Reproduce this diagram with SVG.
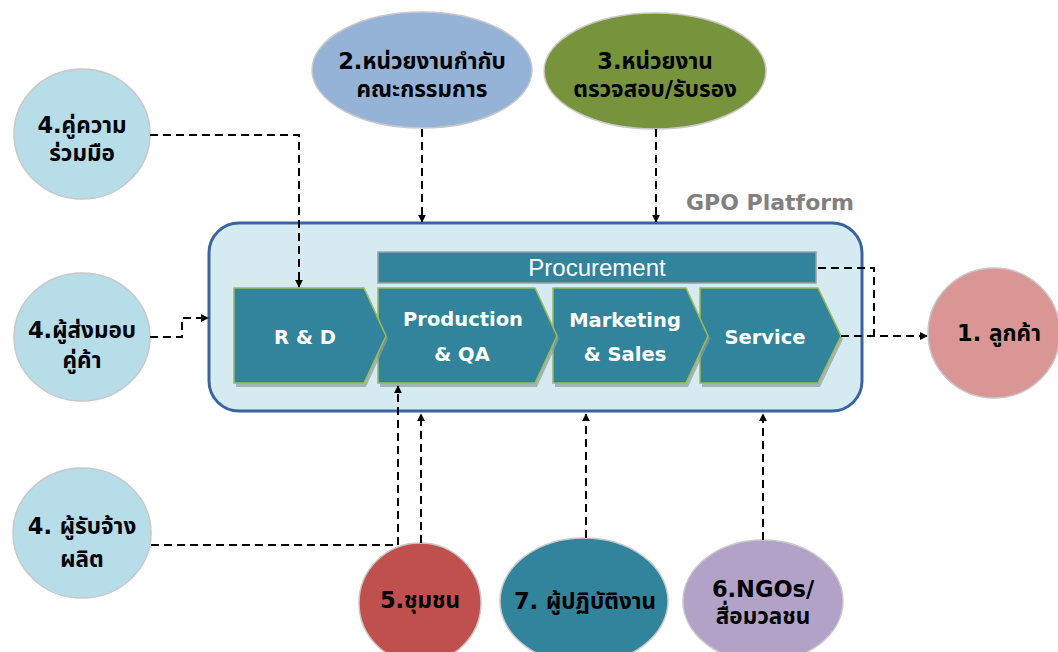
<svg xmlns="http://www.w3.org/2000/svg" width="1058" height="652" viewBox="0 0 1058 652">
<defs>
<marker id="ah" viewBox="0 0 10 10" refX="9" refY="5" markerWidth="8" markerHeight="8" markerUnits="userSpaceOnUse" orient="auto">
<path d="M0,0 L10,5 L0,10 Z" fill="#000"/>
</marker>
<style>
.lbl{font-family:"DejaVu Sans","Noto Sans Thai","Noto Sans",sans-serif;font-weight:bold;font-size:22.5px;fill:#000;text-anchor:middle;dominant-baseline:central}
.wt{font-family:"DejaVu Sans","Noto Sans",sans-serif;font-weight:bold;font-size:19.5px;fill:#fff;text-anchor:middle;dominant-baseline:central}
.node{stroke:#c8c8c8;stroke-width:1.5}
.chev{fill:#31849b;stroke:#9bbb59;stroke-width:1.5}
.shadow{fill:#8c9ca0;opacity:0.7}
.conn{fill:none;stroke:#000;stroke-width:2;stroke-dasharray:8 5}
</style>
</defs>
<rect width="1058" height="652" fill="#fff"/>

<g id="platform">
<rect x="209" y="223" width="653" height="188" rx="30" ry="30" fill="#d6eaf2" stroke="#3a64a0" stroke-width="3"/>
<text x="770" y="202" font-family="'DejaVu Sans',sans-serif" font-weight="bold" font-size="22" fill="#808080" text-anchor="middle" dominant-baseline="central">GPO Platform</text>
</g>

<g id="procurement">
<rect x="378" y="252" width="438" height="31" fill="#31849b" stroke="#a0a0a0" stroke-width="1.5"/>
<text x="597" y="267" font-family="'Liberation Sans',Arial,sans-serif" font-size="24" fill="#fff" text-anchor="middle" dominant-baseline="central">Procurement</text>
</g>

<g id="service">
<path class="shadow" d="M702,291 L820,291 L843,339 L820,387 L702,387 Z"/>
<path class="chev" d="M700,288 L818,288 L841,336 L818,383 L700,383 Z"/>
<text class="wt" x="765" y="337">Service</text>
</g>
<g id="marketing">
<path class="shadow" d="M555,291 L688,291 L710,339 L688,387 L555,387 Z"/>
<path class="chev" d="M553,288 L686,288 L708,336 L686,383 L553,383 Z"/>
<text class="wt" x="625" y="320">Marketing</text>
<text class="wt" x="625" y="354">&amp; Sales</text>
</g>
<g id="production">
<path class="shadow" d="M380,291 L537,291 L559,339 L537,387 L380,387 Z"/>
<path class="chev" d="M378,288 L535,288 L557,336 L535,383 L378,383 Z"/>
<text class="wt" x="463" y="319">Production</text>
<text class="wt" x="462" y="354">&amp; QA</text>
</g>
<g id="rd">
<path class="shadow" d="M236,291 L366,291 L388,339 L366,387 L236,387 Z"/>
<path class="chev" d="M234,288 L364,288 L386,336 L364,383 L234,383 Z"/>
<text class="wt" x="305" y="337">R &amp; D</text>
</g>

<g id="n2">
<ellipse class="node" cx="422" cy="70" rx="110" ry="58" fill="#95b3d7"/>
<text class="lbl" x="422" y="61">2.หน่วยงานกำกับ</text>
<text class="lbl" x="422" y="89">คณะกรรมการ</text>
</g>
<g id="n3">
<ellipse class="node" cx="655" cy="71" rx="111" ry="58" fill="#77933c"/>
<text class="lbl" x="655" y="61">3.หน่วยงาน</text>
<text class="lbl" x="655" y="89">ตรวจสอบ/รับรอง</text>
</g>
<g id="n4a">
<ellipse class="node" cx="82" cy="134" rx="68" ry="65" fill="#b7dde8"/>
<text class="lbl" x="82" y="125">4.คู่ความ</text>
<text class="lbl" x="82" y="153">ร่วมมือ</text>
</g>
<g id="n4b">
<ellipse class="node" cx="82" cy="337" rx="68" ry="64" fill="#b7dde8"/>
<text class="lbl" x="82" y="330">4.ผู้ส่งมอบ</text>
<text class="lbl" x="82" y="360">คู่ค้า</text>
</g>
<g id="n4c">
<ellipse class="node" cx="82" cy="533" rx="69" ry="65" fill="#b7dde8"/>
<text class="lbl" x="82" y="526">4. ผู้รับจ้าง</text>
<text class="lbl" x="82" y="559">ผลิต</text>
</g>
<g id="n5">
<ellipse class="node" cx="420" cy="603" rx="61" ry="60" fill="#c0504d"/>
<text class="lbl" x="420" y="600">5.ชุมชน</text>
</g>
<g id="n7">
<ellipse class="node" cx="584" cy="601" rx="84" ry="63" fill="#31849b"/>
<text class="lbl" x="585" y="601">7. ผู้ปฏิบัติงาน</text>
</g>
<g id="n6">
<ellipse class="node" cx="763" cy="601" rx="80" ry="61" fill="#b2a2c7"/>
<text class="lbl" x="763" y="589">6.NGOs/</text>
<text class="lbl" x="763" y="616">สื่อมวลชน</text>
</g>
<g id="n1">
<ellipse class="node" cx="994" cy="333" rx="66" ry="65" fill="#d99694"/>
<text class="lbl" x="999" y="333">1. ลูกค้า</text>
</g>

<g id="connectors">
<path class="conn" d="M150,135 L299,135 L299,287" marker-end="url(#ah)"/>
<path class="conn" d="M422,129 L422,222" marker-end="url(#ah)"/>
<path class="conn" d="M656,129 L656,222" marker-end="url(#ah)"/>
<path class="conn" d="M150,337 L182,337 L182,318 L208,318" marker-end="url(#ah)"/>
<path class="conn" d="M151,545 L398,545 L398,386" marker-end="url(#ah)"/>
<path class="conn" d="M421,543 L421,414" marker-end="url(#ah)"/>
<path class="conn" d="M586,538 L586,414" marker-end="url(#ah)"/>
<path class="conn" d="M763,540 L763,414" marker-end="url(#ah)"/>
<path class="conn" d="M818,268 L874,268 L874,335"/>
<path class="conn" d="M841,336 L927,336" marker-end="url(#ah)"/>
</g>
</svg>
